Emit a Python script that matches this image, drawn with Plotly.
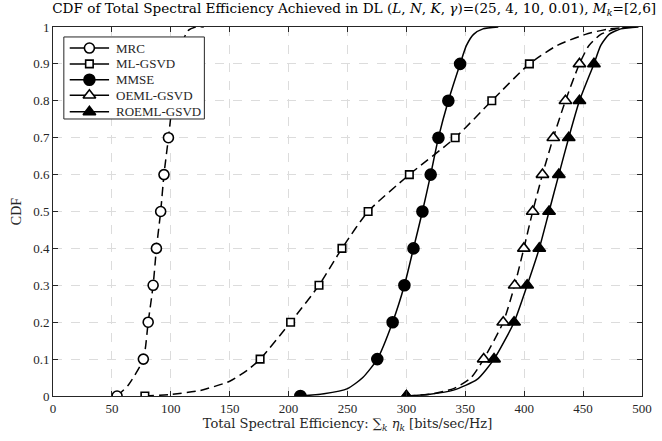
import plotly.graph_objects as go

# ---- data ----
cdf_levels = [0, 0.1, 0.2, 0.3, 0.4, 0.5, 0.6, 0.7, 0.8, 0.9]

# marker positions (x at each CDF level)
mrc_mk_x = [54.4, 76.7, 80.8, 85.0, 87.8, 91.4, 94.2, 98.0]
mrc_mk_y = [0, 0.1, 0.2, 0.3, 0.4, 0.5, 0.6, 0.7]
ml_mk_x = [78, 175.8, 201.7, 225.8, 245.3, 267.5, 302.5, 341.4, 372.5, 404.4]
mmse_mk_x = [210, 275.3, 288.3, 298.3, 306.0, 313.6, 320.6, 327.2, 335.6, 345.6]
oeml_mk_x = [300, 365.6, 382.2, 391.9, 399.7, 407.2, 415.5, 424.7, 435.0, 446.9]
roeml_mk_x = [300, 374.4, 391.4, 402.5, 412.8, 421.1, 429.4, 437.8, 446.9, 459.2]

# curve points (markers plus the tails)
mrc_x = [54.4, 64, 76.7, 80.8, 85.0, 87.8, 91.4, 94.2, 98.0, 101.5, 105.5, 110, 114.5, 121, 128]
mrc_y = [0, 0.03, 0.1, 0.2, 0.3, 0.4, 0.5, 0.6, 0.7, 0.8, 0.9, 0.96, 0.99, 1.0, 1.0]
ml_x = [78, 100, 125, 150, 165, 175.8, 201.7, 225.8, 245.3, 267.5, 302.5, 341.4, 372.5, 404.4, 428, 452, 472, 495]
ml_y = [0, 0.004, 0.015, 0.04, 0.07, 0.1, 0.2, 0.3, 0.4, 0.5, 0.6, 0.7, 0.8, 0.9, 0.95, 0.98, 0.995, 1.0]
mmse_x = [210, 230, 250, 263, 275.3, 288.3, 298.3, 306.0, 313.6, 320.6, 327.2, 335.6, 345.6, 351, 357, 365, 378]
mmse_y = [0, 0.006, 0.02, 0.05, 0.1, 0.2, 0.3, 0.4, 0.5, 0.6, 0.7, 0.8, 0.9, 0.95, 0.98, 0.995, 1.0]
oeml_x = [300, 320, 340, 355, 365.6, 382.2, 391.9, 399.7, 407.2, 415.5, 424.7, 435.0, 446.9, 455, 465, 478, 492]
oeml_y = [0, 0.005, 0.02, 0.05, 0.1, 0.2, 0.3, 0.4, 0.5, 0.6, 0.7, 0.8, 0.9, 0.95, 0.98, 0.995, 1.0]
roeml_x = [300, 320, 340, 360, 374.4, 391.4, 402.5, 412.8, 421.1, 429.4, 437.8, 446.9, 459.2, 465, 472, 482, 497]
roeml_y = [0, 0.005, 0.016, 0.045, 0.1, 0.2, 0.3, 0.4, 0.5, 0.6, 0.7, 0.8, 0.9, 0.95, 0.98, 0.995, 1.0]

series_names = ["MRC", "ML-GSVD", "MMSE", "OEML-GSVD", "ROEML-GSVD"]

x_ticks = [0, 50, 100, 150, 200, 250, 300, 350, 400, 450, 500]
y_ticks = [0, 0.1, 0.2, 0.3, 0.4, 0.5, 0.6, 0.7, 0.8, 0.9, 1]

# ---- styles ----
styles = [
    dict(symbol="circle", fill="white", size=10, dash="dash"),
    dict(symbol="square", fill="white", size=7.5, dash="dash"),
    dict(symbol="circle", fill="black", size=11, dash="solid"),
    dict(symbol="triangle-up", fill="white", size=11, dash="dash"),
    dict(symbol="triangle-up", fill="black", size=11, dash="solid"),
]
curves = [(mrc_x, mrc_y, mrc_mk_x, mrc_mk_y),
          (ml_x, ml_y, ml_mk_x, cdf_levels),
          (mmse_x, mmse_y, mmse_mk_x, cdf_levels),
          (oeml_x, oeml_y, oeml_mk_x, cdf_levels),
          (roeml_x, roeml_y, roeml_mk_x, cdf_levels)]

FONT = "Liberation Serif"
TFONT = "DejaVu Serif"
DARK = "#262626"

fig = go.Figure()
for (cx, cy, mx, my), st in zip(curves, styles):
    d = "9px,5px" if st["dash"] == "dash" else "solid"
    fig.add_trace(go.Scatter(x=cx, y=cy, mode="lines", showlegend=False, hoverinfo="skip",
                             line=dict(color="black", width=1.5, dash=d, shape="spline", smoothing=0.6)))
    fig.add_trace(go.Scatter(x=mx, y=my, mode="markers", showlegend=False,
                             marker=dict(symbol=st["symbol"], size=st["size"], color=st["fill"],
                                         line=dict(color="black", width=1.6))))

# ---- legend drawn on an overlay axis (fractions of the plot area) ----
LB = dict(x0=0.0184, x1=0.257, y0=0.7507, y1=0.973)
row_y = [0.943, 0.900, 0.857, 0.815, 0.770]
line_x0, line_x1, mk_x, txt_x = 0.0284, 0.0952, 0.0618, 0.1035
fig.add_trace(go.Scatter(x=[LB["x0"], LB["x1"], LB["x1"], LB["x0"], LB["x0"]],
                         y=[LB["y0"], LB["y0"], LB["y1"], LB["y1"], LB["y0"]],
                         mode="lines", fill="toself", fillcolor="white",
                         line=dict(color=DARK, width=1), xaxis="x2", yaxis="y2",
                         showlegend=False, hoverinfo="skip"))
for name, st, ry in zip(series_names, styles, row_y):
    fig.add_trace(go.Scatter(x=[line_x0, line_x1], y=[ry, ry], mode="lines",
                             line=dict(color="black", width=1.5), xaxis="x2", yaxis="y2",
                             showlegend=False, hoverinfo="skip"))
    fig.add_trace(go.Scatter(x=[mk_x], y=[ry], mode="markers", xaxis="x2", yaxis="y2",
                             marker=dict(symbol=st["symbol"], size=st["size"], color=st["fill"],
                                         line=dict(color="black", width=1.6)),
                             showlegend=False, hoverinfo="skip"))
    fig.add_annotation(x=txt_x, y=ry, xref="x2", yref="y2", text=name, showarrow=False,
                       xanchor="left", yanchor="middle",
                       font=dict(family=FONT, size=13, color=DARK))

axis_common = dict(
    showline=True, linecolor=DARK, linewidth=1, mirror="ticks",
    ticks="inside", ticklen=5, tickcolor=DARK,
    showgrid=True, gridcolor="#dcdcdc", griddash="dash", gridwidth=1,
    zeroline=False, tickfont=dict(family=FONT, size=13, color=DARK),
)
fig.update_layout(
    xaxis=dict(range=[0, 500], tickvals=x_ticks, ticktext=[str(v) for v in x_ticks],
               ticklabeloverflow="allow",
               title=dict(text="Total Spectral Efficiency: ∑<sub><i>k</i></sub> <i>η<sub>k</sub></i> [bits/sec/Hz]",
                          font=dict(family=TFONT, size=13, color=DARK), standoff=4),
               **axis_common),
    yaxis=dict(range=[0, 1], tickvals=y_ticks, ticktext=[str(v) for v in y_ticks],
               title=dict(text="CDF", font=dict(family=FONT, size=14, color=DARK), standoff=8),
               **axis_common),
    xaxis2=dict(overlaying="x", range=[0, 1], visible=False, fixedrange=True),
    yaxis2=dict(overlaying="y", range=[0, 1], visible=False, fixedrange=True),
)

fig.update_layout(
    width=662, height=441,
    margin=dict(l=53, r=10, t=27, b=45),
    paper_bgcolor="white", plot_bgcolor="white",
    title=dict(text="CDF of Total Spectral Efficiency Achieved in DL (<i>L</i>, <i>N</i>, <i>K</i>, <i>γ</i>)=(25, 4, 10, 0.01), <i>M<sub>k</sub></i>=[2,6]",
               x=0.535, xanchor="center", y=0.992, yanchor="top",
               font=dict(family=TFONT, size=13.6, color="black")),
    showlegend=False,
)

fig.write_html("out.html")
